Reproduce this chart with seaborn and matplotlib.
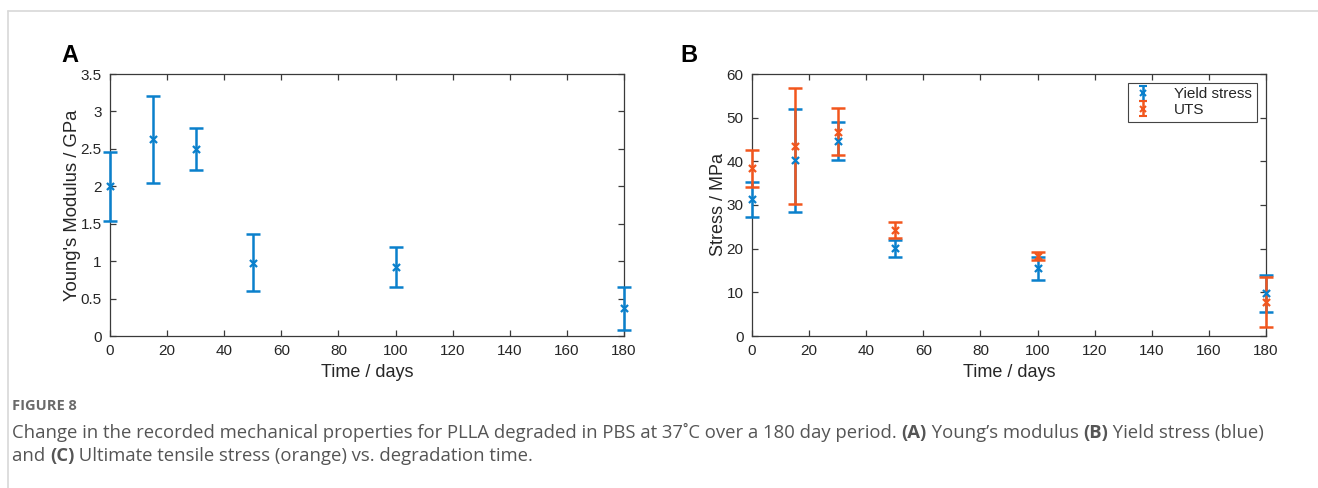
import matplotlib
matplotlib.use("Agg")
import matplotlib.pyplot as plt
from matplotlib.lines import Line2D
import seaborn as sns
import pandas as pd
import numpy as np

# ---- data ----
days = [0, 15, 30, 50, 100, 180]
youngs_mean = [2.00, 2.63, 2.50, 0.98, 0.92, 0.37]
youngs_err = [0.46, 0.58, 0.28, 0.38, 0.27, 0.29]

yield_mean = [31.3, 40.2, 44.7, 20.1, 15.5, 9.8]
yield_err = [4.0, 11.7, 4.3, 1.9, 2.6, 4.2]

uts_mean = [38.4, 43.5, 46.8, 24.3, 18.3, 7.8]
uts_err = [4.3, 13.3, 5.4, 1.9, 1.0, 5.7]

x_ticks = [0, 20, 40, 60, 80, 100, 120, 140, 160, 180]
ya_ticks = [0, 0.5, 1, 1.5, 2, 2.5, 3, 3.5]
ya_labels = ["0", "0.5", "1", "1.5", "2", "2.5", "3", "3.5"]
yb_ticks = [0, 10, 20, 30, 40, 50, 60]

BLUE = "#0A80CC"
ORANGE = "#F2561D"
AXC = "#3a3a3a"
TXT = "#262626"

sns.set_theme(style="ticks")
plt.rcParams["font.family"] = ["Liberation Sans", "DejaVu Sans"]

fig = plt.figure(figsize=(13.18, 4.88), dpi=100)
W, H = 1318, 488

def ax_at(l, t, r, b):
    return fig.add_axes([l / W, 1 - b / H, (r - l) / W, (b - t) / H])

axA = ax_at(110, 74, 624, 336)
axB = ax_at(752, 74, 1266, 336)

def style(ax):
    for s in ax.spines.values():
        s.set_visible(True)
        s.set_color(AXC)
        s.set_linewidth(0.9)
    ax.tick_params(direction="in", top=True, right=True, length=4, width=0.9,
                   color=AXC, labelsize=11, labelcolor=TXT)
    ax.tick_params(axis="x", pad=6)
    ax.tick_params(axis="y", pad=6)
    ax.set_xlim(0, 180)
    ax.set_xticks(x_ticks)
    ax.set_xlabel("Time / days", fontsize=13, color=TXT, labelpad=4)

def draw_series(ax, x, m, e, color):
    df = pd.DataFrame({"day": x, "val": m})
    ax.errorbar(x, m, yerr=e, fmt="none", ecolor=color, elinewidth=1.8,
                capsize=5, capthick=1.8, clip_on=False, zorder=3)
    sns.scatterplot(data=df, x="day", y="val", ax=ax, marker="x", s=26,
                    color=color, linewidth=1.6, clip_on=False, zorder=4, legend=False)

# Panel A
draw_series(axA, days, youngs_mean, youngs_err, BLUE)
style(axA)
axA.set_ylim(0, 3.5)
axA.set_yticks(ya_ticks)
axA.set_yticklabels(ya_labels)
axA.set_ylabel("Young's Modulus / GPa", fontsize=13.3, color=TXT, labelpad=0)

# Panel B
draw_series(axB, days, yield_mean, yield_err, BLUE)
draw_series(axB, days, uts_mean, uts_err, ORANGE)
style(axB)
axB.set_ylim(0, 60)
axB.set_yticks(yb_ticks)
axB.set_ylabel("Stress / MPa", fontsize=13, color=TXT, labelpad=0)

h1 = axB.errorbar([np.nan], [np.nan], yerr=[1], fmt="x", color=BLUE, ecolor=BLUE,
                  elinewidth=1.8, capsize=3, capthick=1.8, ms=4, mew=1.5)
h2 = axB.errorbar([np.nan], [np.nan], yerr=[1], fmt="x", color=ORANGE, ecolor=ORANGE,
                  elinewidth=1.8, capsize=3, capthick=1.8, ms=4, mew=1.5)
leg = axB.legend([h1, h2], ["Yield stress", "UTS"], loc="upper right",
                 bbox_to_anchor=(0.982, 0.966), fontsize=11, frameon=True,
                 fancybox=False, edgecolor="#444444", framealpha=1,
                 handlelength=1.3, handletextpad=1.4, borderpad=0.3,
                 labelspacing=0.1, borderaxespad=0)
leg.get_frame().set_linewidth(0.8)
for t in leg.get_texts():
    t.set_color(TXT)

# panel letters
fig.text(70 / W, 1 - 55 / H, "A", fontsize=17, fontweight="bold", ha="center", va="center", color="black")
fig.text(689 / W, 1 - 55 / H, "B", fontsize=17, fontweight="bold", ha="center", va="center", color="black")

# frame lines (top and left)
fig.add_artist(Line2D([8 / W, 1], [1 - 11 / H, 1 - 11 / H], color="#d8d8d8", lw=1.2))
fig.add_artist(Line2D([8 / W, 8 / W], [0, 1 - 11 / H], color="#d8d8d8", lw=1.2))

# caption
cap_font = ["Open Sans", "DejaVu Sans"]
fig.text(12 / W, 1 - 410 / H, "FIGURE 8", fontsize=10.5, fontweight="bold",
         color="#6a6a6a", family=cap_font, va="baseline")
line1_parts = [
    ("Change in the recorded mechanical properties for PLLA degraded in PBS at 37\u02daC over a 180 day period. ", "normal"),
    ("(A)", "bold"), (" Young\u2019s modulus ", "normal"), ("(B)", "bold"), (" Yield stress (blue)", "normal"),
]
line2_parts = [("and ", "normal"), ("(C)", "bold"), (" Ultimate tensile stress (orange) vs. degradation time.", "normal")]

def draw_line(parts, y):
    fig.canvas.draw()
    r = fig.canvas.get_renderer()
    x = 12
    for txt, wt in parts:
        t = fig.text(x / W, 1 - y / H, txt, fontsize=13.3, fontweight=wt,
                     color="#555555", family=cap_font, va="baseline")
        bb = t.get_window_extent(renderer=r)
        x += bb.width

draw_line(line1_parts, 438)
draw_line(line2_parts, 461)

fig.savefig("out.png", dpi=100)
